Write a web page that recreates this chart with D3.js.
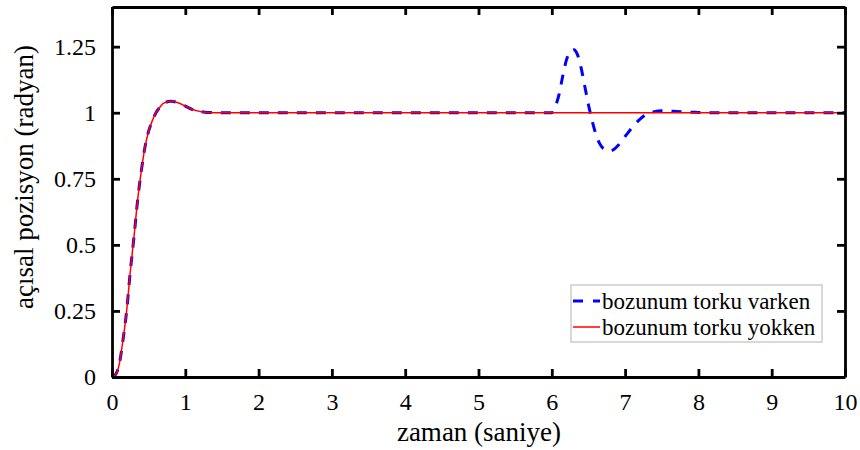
<!DOCTYPE html>
<html>
<head>
<meta charset="utf-8">
<script src="https://cdn.jsdelivr.net/npm/d3@7"></script>
</head>
<body>
<div id="chart"></div>
<script>
// step response without disturbance (red)
const tNoDist = [0, 0.05, 0.1, 0.15, 0.2, 0.25, 0.3, 0.35, 0.4, 0.45, 0.5, 0.55, 0.6, 0.65, 0.7, 0.8, 0.9, 1.0, 1.1, 1.2, 1.3, 1.5, 2, 4, 6, 8, 10]
const yNoDist = [0, 0.01, 0.05, 0.14, 0.25, 0.4, 0.53, 0.67, 0.78, 0.87, 0.93, 0.97, 1.0, 1.02, 1.035, 1.043, 1.038, 1.025, 1.012, 1.005, 1.001, 1.0, 1.0, 1.0, 1.0, 1.0, 1.0]
// disturbance part of the blue curve (from t = 6 s)
const tDist = [6.0, 6.05, 6.1, 6.15, 6.2, 6.25, 6.3, 6.35, 6.4, 6.45, 6.5, 6.55, 6.6, 6.65, 6.7, 6.78, 6.85, 6.9, 7.0, 7.1, 7.2, 7.3, 7.4, 7.5, 7.7, 7.9, 8.1, 10]
const yDist = [1.0, 1.025, 1.07, 1.14, 1.2, 1.232, 1.238, 1.22, 1.17, 1.1, 1.03, 0.97, 0.92, 0.885, 0.865, 0.855, 0.862, 0.875, 0.91, 0.945, 0.975, 0.995, 1.004, 1.007, 1.005, 1.002, 1.0, 1.0]

const xTicks = [0, 1, 2, 3, 4, 5, 6, 7, 8, 9, 10]
const yTicks = [0, 0.25, 0.5, 0.75, 1, 1.25]
const legendNames = ['bozunum torku varken', 'bozunum torku yokken']

const width = 860, height = 450
const margin = {left: 112, right: 15, top: 7, bottom: 73}
const w = width - margin.left - margin.right
const h = height - margin.top - margin.bottom

let red = tNoDist.map((t, i) => [t, yNoDist[i]])
let blue = red.filter(d => d[0] < 6).concat(tDist.map((t, i) => [t, yDist[i]]))

d3.select('body').style('margin', '0px')
let svg = d3.select('#chart').append('svg')
  .attr('width', width)
  .attr('height', height)

let x = d3.scaleLinear().domain([0, 10]).range([margin.left, margin.left + w])
let y = d3.scaleLinear().domain([0, 1.4]).range([margin.top + h, margin.top])

svg.append('clipPath').attr('id', 'clip')
  .append('rect')
  .attr('x', margin.left).attr('y', margin.top)
  .attr('width', w).attr('height', h)

let line = d3.line()
  .x(d => x(d[0]))
  .y(d => y(d[1]))
  .curve(d3.curveMonotoneX)

let plot = svg.append('g').attr('clip-path', 'url(#clip)')
plot.append('path')
  .datum(blue)
  .attr('d', line)
  .attr('fill', 'none')
  .attr('stroke', '#0000ff')
  .attr('stroke-width', 3)
  .attr('stroke-dasharray', '10,9')
plot.append('path')
  .datum(red)
  .attr('d', line)
  .attr('fill', 'none')
  .attr('stroke', '#ff0000')
  .attr('stroke-width', 1.5)

// axes, ticks pointing inward like matlab
let tickLen = 8
let axBottom = svg.append('g')
  .attr('transform', `translate(0,${margin.top + h})`)
  .call(d3.axisBottom(x).tickValues(xTicks).tickFormat(d3.format('d')).tickSizeInner(-tickLen).tickSizeOuter(0).tickPadding(tickLen + 8))
let axTop = svg.append('g')
  .attr('transform', `translate(0,${margin.top})`)
  .call(d3.axisTop(x).tickValues(xTicks).tickFormat('').tickSizeInner(-tickLen).tickSizeOuter(0))
let axLeft = svg.append('g')
  .attr('transform', `translate(${margin.left},0)`)
  .call(d3.axisLeft(y).tickValues(yTicks).tickFormat(d => d3.format('')(d)).tickSizeInner(-tickLen).tickSizeOuter(0).tickPadding(tickLen + 8))
let axRight = svg.append('g')
  .attr('transform', `translate(${margin.left + w},0)`)
  .call(d3.axisRight(y).tickValues(yTicks).tickFormat('').tickSizeInner(-tickLen).tickSizeOuter(0))

svg.selectAll('.domain').attr('stroke', '#000').attr('stroke-width', 2.8)
svg.selectAll('.tick line').attr('stroke', '#000').attr('stroke-width', 2.8)
svg.selectAll('.tick text')
  .style('font-family', '"Times New Roman"')
  .style('font-size', '24px')
  .attr('fill', '#000')

// labels
svg.append('text')
  .attr('x', 479)
  .attr('y', 441)
  .attr('text-anchor', 'middle')
  .style('font-family', '"Times New Roman"')
  .style('font-size', '27px')
  .text('zaman (saniye)')
svg.append('text')
  .attr('transform', 'translate(33,177) rotate(-90)')
  .attr('text-anchor', 'middle')
  .style('font-family', '"Times New Roman"')
  .style('font-size', '27px')
  .text('açısal pozisyon (radyan)')

// legend
let lg = svg.append('g')
lg.append('rect')
  .attr('x', 571).attr('y', 285)
  .attr('width', 251).attr('height', 57)
  .attr('fill', '#fff')
  .attr('stroke', '#cccccc')
  .attr('stroke-width', 1.5)
let styles = [{c: '#0000ff', sw: 3, dash: '10,10'}, {c: '#ff0000', sw: 1.5, dash: null}]
legendNames.forEach((name, i) => {
  let yy = 301 + i * 26
  lg.append('line')
    .attr('x1', 573).attr('x2', 600)
    .attr('y1', yy).attr('y2', yy)
    .attr('stroke', styles[i].c)
    .attr('stroke-width', styles[i].sw)
    .attr('stroke-dasharray', styles[i].dash)
  lg.append('text')
    .attr('x', 602)
    .attr('y', yy + 8)
    .style('font-family', '"Times New Roman"')
    .style('font-size', '23px')
    .text(name)
})
</script>
</body>
</html>
